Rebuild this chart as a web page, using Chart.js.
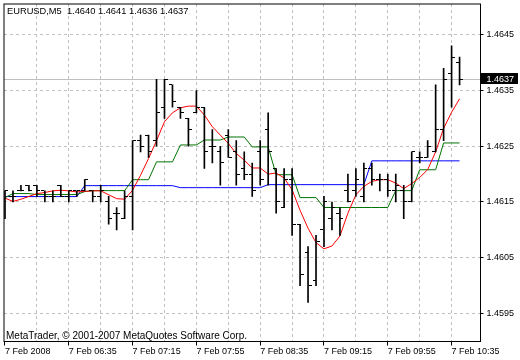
<!DOCTYPE html>
<html><head><meta charset="utf-8">
<script src="https://cdn.jsdelivr.net/npm/chart.js@4"></script>
<style>html,body{margin:0;padding:0;background:#fff}canvas{display:block}</style>
</head><body>
<canvas id="c" width="520" height="360"></canvas>
<script>
const symbol = 'EURUSD,M5';
const copyright = 'MetaTrader, \u00A9 2001-2007 MetaQuotes Software Corp.';

const opens = [
1.4616,1.4616,1.4617,1.4618,1.4618,1.4617,1.4616,1.4618,1.4616,1.4617,
1.4617,1.4617,1.4616,1.4615,1.4613,1.4612,1.4616,1.4626,1.4627,1.4626,
1.4632,1.4636,1.4632,1.4630,1.4631,1.4632,1.4625,1.4624,1.4627,1.4624,
1.4621,1.4620,1.4624,1.4628,1.4621,1.4614,1.4619,1.4611,1.4606,1.4601,
1.4610,1.4612,1.4613,1.4617,1.4617,1.4616,1.4621,1.4619,1.4619,1.4617,
1.4617,1.4615,1.4623,1.4623,1.4624,1.4628,1.4638,1.4640];
const highs = [
1.4617,1.4617,1.4618,1.4618,1.4618,1.4617,1.4617,1.4618,1.4617,1.4617,
1.4619,1.4617,1.4618,1.4616,1.4614,1.4617,1.4626,1.4627,1.4627,1.4637,
1.4637,1.4636,1.4632,1.4630,1.4635,1.4632,1.4628,1.4625,1.4628,1.4626,
1.4624,1.4622,1.4626,1.4631,1.4621,1.4621,1.4621,1.4611,1.4607,1.4609,
1.4616,1.4615,1.4614,1.4620,1.4621,1.4622,1.4622,1.4620,1.4620,1.4620,
1.4618,1.4624,1.4624,1.4626,1.4636,1.4639,1.4643,1.4641];
const lows = [
1.4612,1.4615,1.4617,1.4617,1.4616,1.4615,1.4615,1.4616,1.4615,1.4616,
1.4617,1.4615,1.4615,1.4611,1.4610,1.4612,1.4610,1.4624,1.4623,1.4625,
1.4630,1.4632,1.4630,1.4625,1.4631,1.4621,1.4622,1.4618,1.4623,1.4618,
1.4619,1.4616,1.4618,1.4618,1.4613,1.4614,1.4609,1.4600,1.4597,1.4600,
1.4607,1.4610,1.4609,1.4615,1.4616,1.4615,1.4618,1.4617,1.4616,1.4615,
1.4612,1.4615,1.4622,1.4623,1.4624,1.4626,1.4632,1.4636];
const closes = [
1.4617,1.4616,1.4617,1.4617,1.4617,1.4616,1.4616,1.4616,1.4617,1.4617,
1.4619,1.4616,1.4617,1.4612,1.4613,1.4616,1.4626,1.4625,1.4624,1.4631,
1.4637,1.4633,1.4631,1.4628,1.4632,1.4624,1.4625,1.4622,1.4623,1.4620,
1.4620,1.4617,1.4619,1.4624,1.4615,1.4619,1.4611,1.4602,1.4600,1.4608,
1.4615,1.4614,1.4612,1.4615,1.4619,1.4621,1.4619,1.4619,1.4617,1.4618,
1.4615,1.4624,1.4623,1.4625,1.4628,1.4637,1.4641,1.4637];

const redLine = [
1.46157,1.46151,1.46155,1.46160,1.46165,1.46167,1.46170,1.46171,1.46170,1.46168,
1.46169,1.46170,1.46170,1.46163,1.46156,1.46155,1.46171,1.46198,1.46228,1.46260,
1.46294,1.46310,1.46319,1.46322,1.46322,1.46306,1.46285,1.46270,1.46255,1.46237,
1.46225,1.46211,1.46211,1.46200,1.46202,1.46193,1.46172,1.46135,1.46103,1.46077,
1.46066,1.46071,1.46089,1.46130,1.46163,1.46178,1.46187,1.46190,1.46190,1.46184,
1.46174,1.46183,1.46194,1.46208,1.46240,1.46282,1.46311,1.46335];
const greenLine = [
1.461579,1.461651,1.461651,1.461651,1.461633,1.461633,1.461633,1.461633,1.461633,1.461633,
1.461686,1.461704,1.461704,1.461704,1.461704,1.461704,1.461900,1.461900,1.461900,1.462220,
1.462220,1.462220,1.462523,1.462523,1.462523,1.462612,1.462612,1.462612,1.462666,1.462666,
1.462666,1.462488,1.462488,1.462488,1.461989,1.461989,1.461989,1.461579,1.461579,1.461579,
1.461401,1.461401,1.461401,1.461401,1.461401,1.461401,1.461401,1.461401,1.461401,1.461704,
1.461704,1.461704,1.462078,1.462078,1.462078,1.462559,1.462559,1.462559];
const blueLine = [
1.461597,1.461597,1.461597,1.461597,1.461597,1.461597,1.461597,1.461597,1.461597,1.461597,
1.461793,1.461793,1.461793,1.461793,1.461793,1.461793,1.461793,1.461793,1.461793,1.461793,
1.461793,1.461793,1.461757,1.461757,1.461757,1.461757,1.461757,1.461757,1.461757,1.461757,
1.461757,1.461757,1.461757,1.461811,1.461811,1.461811,1.461811,1.461811,1.461811,1.461811,
1.461811,1.461811,1.461811,1.461811,1.461811,1.461811,1.462238,1.462238,1.462238,1.462238,
1.462238,1.462238,1.462238,1.462238,1.462238,1.462238,1.462238,1.462238];

const xLabelPos = [0, 8, 16, 24, 32, 40, 48, 56];
const xLabels = ['7 Feb 2008','7 Feb 06:35','7 Feb 07:15','7 Feb 07:55','7 Feb 08:35','7 Feb 09:15','7 Feb 09:55','7 Feb 10:35'];
const xGridTicks = [0,4,8,12,16,20,24,28,32,36,40,44,48,52,56];
const yTicks = [1.4595, 1.4605, 1.4615, 1.4625, 1.4635, 1.4645];

const X_MIN = -0.125, X_MAX = 59.625;
const Y_MIN = 1.458997, Y_MAX = 1.465052;

const FONT = "'Liberation Sans', Arial, sans-serif";
Chart.defaults.font.family = FONT;
Chart.defaults.font.size = 9;
Chart.defaults.color = '#000';

const idx = closes.map((_, i) => i);
const hl = idx.map(i => ({x: i, y: [lows[i], highs[i]]}));
const op = idx.map(i => ({x: i, y: opens[i]}));
const cl = idx.map(i => ({x: i, y: closes[i]}));
const series = arr => arr.map((v, i) => ({x: i, y: v}));

function tickImg(left) {
  const c = document.createElement('canvas');
  c.width = 7; c.height = 1;
  const g = c.getContext('2d');
  g.fillStyle = '#000';
  if (left) g.fillRect(0, 0, 3, 1); else g.fillRect(4, 0, 3, 1);
  return c;
}
const openImg = tickImg(true), closeImg = tickImg(false);

const last = idx.length - 1;
const header = symbol + '  ' + [opens[last], highs[last], lows[last], closes[last]].map(v => v.toFixed(4)).join(' ');

const frame = {
  id: 'frame',
  beforeDraw(chart) {
    const ctx = chart.ctx;
    ctx.save(); ctx.fillStyle = '#fff'; ctx.fillRect(0, 0, chart.width, chart.height); ctx.restore();
    ctx.imageSmoothingEnabled = false;
  },
  beforeDatasetsDraw(chart) {
    const {ctx, chartArea: a, scales: {y}} = chart;
    const py = Math.round(y.getPixelForValue(closes[last]) - 0.5) + 0.5;
    ctx.save();
    ctx.strokeStyle = '#c0c0c0'; ctx.lineWidth = 1; ctx.setLineDash([]);
    ctx.beginPath(); ctx.moveTo(a.left, py); ctx.lineTo(a.right, py); ctx.stroke();
    ctx.restore();
  },
  afterDraw(chart) {
    const {ctx, chartArea: a, scales: {y}} = chart;
    ctx.save();
    ctx.setLineDash([]);
    ctx.strokeStyle = '#000'; ctx.lineWidth = 1;
    ctx.strokeRect(a.left, a.top, a.right - a.left, a.bottom - a.top);
    ctx.textBaseline = 'middle'; ctx.textAlign = 'left';
    ctx.fillStyle = '#000';
    ctx.font = '9.3px ' + FONT;
    ctx.fillText(header, 7, 11);
    ctx.font = '10px ' + FONT;
    ctx.fillText(copyright, 6, 336);
    const py = y.getPixelForValue(closes[last]);
    ctx.font = '9px ' + FONT;
    ctx.fillStyle = '#000';
    ctx.fillRect(481, Math.round(py) - 6, 37, 11);
    ctx.fillStyle = '#fff';
    ctx.fillText(closes[last].toFixed(4), 486.5, py);
    ctx.restore();
  }
};

new Chart(document.getElementById('c'), {
  type: 'line',
  data: {
    datasets: [
      {type: 'bar', data: hl, backgroundColor: '#000', borderWidth: 0, barThickness: 1, grouped: false, minBarLength: 1, order: 0},
      {type: 'line', data: op, showLine: false, pointStyle: openImg, pointRadius: 3, pointHoverRadius: 3, order: 0},
      {type: 'line', data: cl, showLine: false, pointStyle: closeImg, pointRadius: 3, pointHoverRadius: 3, order: 0},
      {type: 'line', data: series(blueLine), borderColor: '#0000ff', borderWidth: 1, pointRadius: 0, tension: 0, order: 3},
      {type: 'line', data: series(greenLine), borderColor: '#007400', borderWidth: 1, pointRadius: 0, tension: 0, order: 2},
      {type: 'line', data: series(redLine), borderColor: '#ff0000', borderWidth: 1, pointRadius: 0, tension: 0, order: 1}
    ]
  },
  options: {
    responsive: false, animation: false, devicePixelRatio: 1,
    events: [],
    layout: {padding: {left: 2.5, top: 1.5, right: 0, bottom: 0}},
    plugins: {legend: {display: false}, tooltip: {enabled: false}, title: {display: false}},
    scales: {
      x: {
        type: 'linear', min: X_MIN, max: X_MAX, offset: false,
        afterBuildTicks: s => { s.ticks = xGridTicks.map(v => ({value: v})); },
        afterFit: s => { s.height = 18.5; s.paddingLeft = 0; s.paddingRight = 0; s.paddingTop = 0; s.paddingBottom = 0; },
        grid: {
          offset: false, lineWidth: 1, tickLength: 4,
          color: c => (c.tick && c.tick.value === 0) ? 'rgba(0,0,0,0)' : '#c0c0c0',
          tickColor: c => (c.tick && xLabelPos.includes(c.tick.value)) ? '#000' : 'rgba(0,0,0,0)',
          tickBorderDash: [], borderDash: [3, 3]
        },
        border: {display: false, dash: [3, 3]},
        ticks: {
          autoSkip: false, maxRotation: 0, minRotation: 0, align: 'start', padding: 1,
          callback: v => { const j = xLabelPos.indexOf(v); return j >= 0 ? xLabels[j] : ''; }
        }
      },
      y: {
        type: 'linear', position: 'right', min: Y_MIN, max: Y_MAX,
        afterBuildTicks: s => { s.ticks = yTicks.map(v => ({value: v})); },
        afterFit: s => { s.width = 39.5; s.paddingTop = 0; s.paddingBottom = 0; s.paddingLeft = 0; s.paddingRight = 0; },
        grid: {color: '#c0c0c0', lineWidth: 1, tickLength: 3, tickColor: '#000', tickBorderDash: [], borderDash: [3, 3]},
        border: {display: false, dash: [3, 3]},
        ticks: {padding: 3, callback: v => Number(v).toFixed(4)}
      }
    }
  },
  plugins: [frame]
});
</script>
</body></html>
